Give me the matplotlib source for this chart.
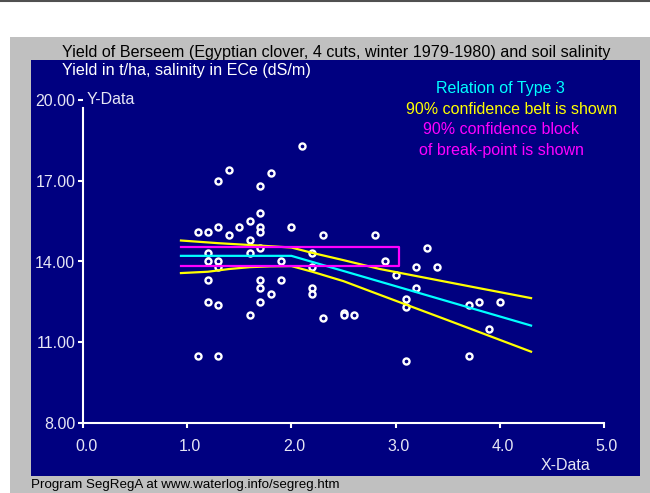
import matplotlib
matplotlib.use('Agg')
import matplotlib.pyplot as plt
from matplotlib.patches import Rectangle
from matplotlib.lines import Line2D
from matplotlib.transforms import ScaledTranslation

plt.rcParams['font.family'] = ['Liberation Sans', 'DejaVu Sans']

# observed yield (t/ha) vs soil salinity ECe (dS/m)
x_obs = [1.1, 1.1,
         1.2, 1.2, 1.2, 1.2, 1.2,
         1.3, 1.3, 1.3, 1.3, 1.3, 1.3,
         1.4, 1.4,
         1.5,
         1.6, 1.6, 1.6, 1.6,
         1.7, 1.7, 1.7, 1.7, 1.7, 1.7, 1.7, 1.7,
         1.8, 1.8,
         1.9, 1.9,
         2.0,
         2.1,
         2.2, 2.2, 2.2, 2.2,
         2.3, 2.3,
         2.5, 2.5,
         2.6,
         2.8,
         2.9,
         3.0,
         3.1, 3.1, 3.1,
         3.2, 3.2,
         3.3,
         3.4,
         3.7, 3.7,
         3.8,
         3.9,
         4.0]
y_obs = [15.1, 10.5,
         15.1, 14.3, 14.0, 13.3, 12.5,
         17.0, 15.3, 14.0, 13.8, 12.4, 10.5,
         17.4, 15.0,
         15.3,
         15.5, 14.8, 14.3, 12.0,
         16.8, 15.8, 15.3, 15.1, 14.5, 13.3, 13.0, 12.5,
         17.3, 12.8,
         14.0, 13.3,
         15.3,
         18.3,
         14.3, 13.8, 13.0, 12.8,
         15.0, 11.9,
         12.1, 12.0,
         12.0,
         15.0,
         14.0,
         13.5,
         12.6, 12.3, 10.3,
         13.8, 13.0,
         14.5,
         13.8,
         12.4, 10.5,
         12.5,
         11.5,
         12.5]

# segmented regression (type 3), break-point near 2.0
fit_x = [0.94, 2.0, 4.3]
fit_y = [14.21, 14.21, 11.62]

# 90% confidence belt
upper_x = [0.94, 1.3, 1.7, 2.0, 2.2, 2.5, 2.85, 3.8, 4.3]
upper_y = [14.78, 14.68, 14.59, 14.52, 14.32, 14.05, 13.72, 13.01, 12.64]
lower_x = [0.94, 1.2, 1.4, 1.6, 1.8, 2.0, 2.2, 2.5, 2.85, 3.5, 4.3]
lower_y = [13.57, 13.62, 13.72, 13.79, 13.82, 13.83, 13.62, 13.27, 12.76, 11.82, 10.65]

# 90% confidence block of the break-point
block_x = [0.94, 3.03, 3.03, 0.94]
block_y = [14.54, 14.54, 13.85, 13.85]

x_ticks = [0, 1, 2, 3, 4, 5]
y_ticks = [8, 11, 14, 17, 20]

W, H = 650, 493
NAVY = '#000080'
GRAY = '#c0c0c0'
LABEL = '#e6e6f4'

fig = plt.figure(figsize=(W / 100, H / 100), dpi=100)
fig.patch.set_facecolor('white')


def fx(px):
    return px / W


def fy(py):
    return 1 - py / H


# frame: thin top rule, gray panel, navy plot area
fig.add_artist(Line2D([0, 1], [fy(1), fy(1)], transform=fig.transFigure,
                      color='#505050', linewidth=1.5))
fig.add_artist(Rectangle((fx(10), 0), fx(640), fy(37), transform=fig.transFigure,
                         facecolor=GRAY, edgecolor='none', zorder=0))
fig.add_artist(Rectangle((fx(31), fy(476)), fx(640 - 31), (476 - 60) / H,
                         transform=fig.transFigure, facecolor=NAVY,
                         edgecolor='none', zorder=0))

ax = fig.add_axes([fx(83), fy(423), fx(604 - 83), (423 - 100) / H])
ax.set_facecolor('none')
ax.set_xlim(0, 5)
ax.set_ylim(8, 20)

ax.scatter(x_obs, y_obs, s=19, facecolors=NAVY, edgecolors='white',
           linewidths=1.7, zorder=2)
ax.plot(upper_x, upper_y, color='#ffff00', linewidth=1.6, zorder=3)
ax.plot(lower_x, lower_y, color='#ffff00', linewidth=1.6, zorder=3)
ax.plot(fit_x, fit_y, color='#00ffff', linewidth=1.6, zorder=4)
ax.plot(block_x, block_y, color='#ff00ff', linewidth=1.6, zorder=5)

for side in ['top', 'right']:
    ax.spines[side].set_visible(False)
for side in ['left', 'bottom']:
    ax.spines[side].set_color('white')
    ax.spines[side].set_linewidth(1.5)
ax.spines['left'].set_bounds(8, 19.7)

ax.set_xticks(x_ticks)
ax.set_xticklabels([f'{v:.1f}' for v in x_ticks])
ax.set_yticks(y_ticks)
ax.set_yticklabels([f'{v:.2f}' for v in y_ticks])
ax.tick_params(axis='both', colors='white', labelcolor=LABEL, labelsize=11.5,
               length=3.5, width=1.5, direction='out')
ax.tick_params(axis='x', pad=8)
ax.tick_params(axis='y', pad=2)
shift = ScaledTranslation(3 / 100, 0, fig.dpi_scale_trans)
for lab in ax.get_xticklabels():
    lab.set_transform(lab.get_transform() + shift)

# texts
fig.text(fx(62), fy(52), 'Yield of Berseem (Egyptian clover, 4 cuts, winter 1979-1980) and soil salinity',
         fontsize=11.6, color='black', va='center', ha='left')
fig.text(fx(62), fy(70), 'Yield in t/ha, salinity in ECe (dS/m)',
         fontsize=11.6, color='white', va='center', ha='left')
fig.text(fx(87), fy(100), 'Y-Data', fontsize=11.5, color=LABEL, va='center', ha='left')
fig.text(fx(566), fy(465), 'X-Data', fontsize=11.5, color=LABEL, va='center', ha='center')

fig.text(fx(500), fy(88), 'Relation of Type 3', fontsize=11.5, color='#00ffff',
         va='center', ha='center')
fig.text(fx(512), fy(109), '90% confidence belt is shown', fontsize=11.5,
         color='#ffff00', va='center', ha='center')
fig.text(fx(501), fy(130), '90% confidence block', fontsize=11.5,
         color='#ff00ff', va='center', ha='center')
fig.text(fx(501), fy(151), 'of break-point is shown', fontsize=11.5,
         color='#ff00ff', va='center', ha='center')

fig.text(fx(31), fy(485), 'Program SegRegA at www.waterlog.info/segreg.htm',
         fontsize=9.6, color='black', va='center', ha='left')

fig.savefig('out.png', dpi=100)
